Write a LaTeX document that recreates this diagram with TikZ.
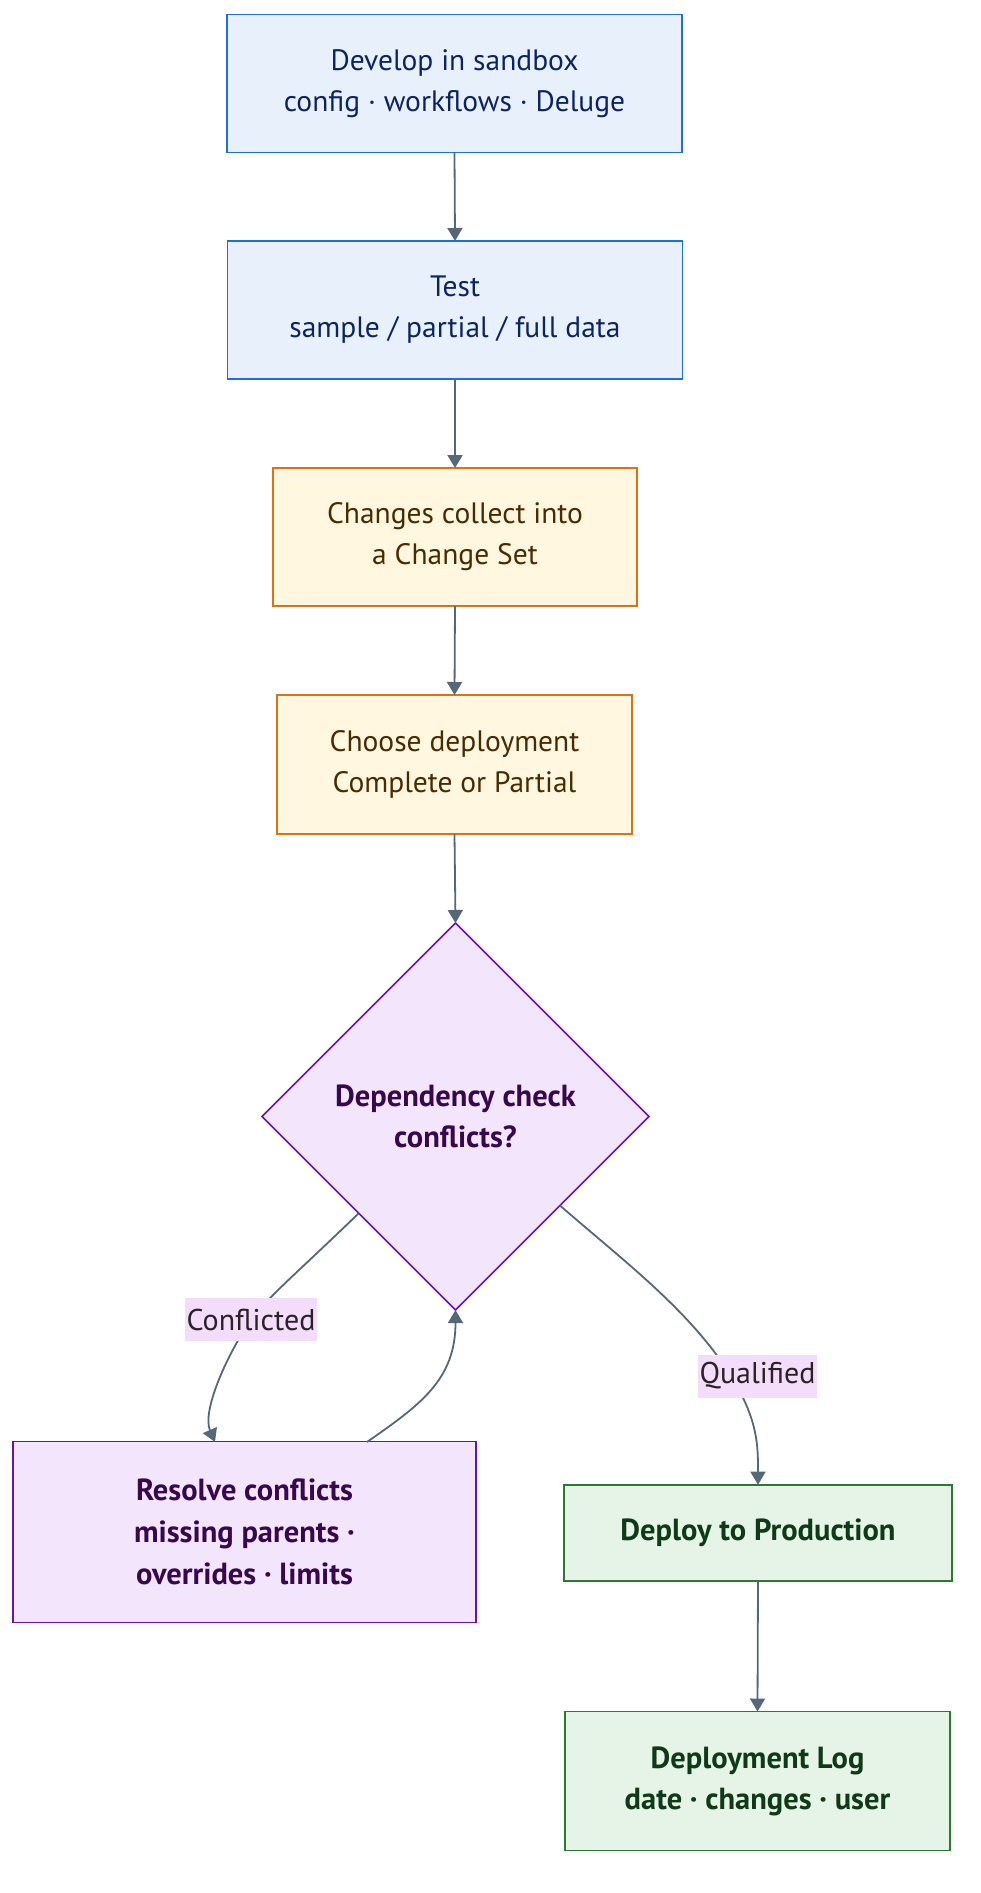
\documentclass[tikz,border=0pt]{standalone}
\usepackage{fontspec}
\setmainfont{PT Sans}
\usetikzlibrary{arrows.meta,shapes.geometric,calc}
\definecolor{bfill}{HTML}{E8F0FC}
\definecolor{bdraw}{HTML}{1E6FD9}
\definecolor{btext}{HTML}{0D2462}
\definecolor{ofill}{HTML}{FFF7E0}
\definecolor{odraw}{HTML}{DB7410}
\definecolor{otext}{HTML}{4A2B00}
\definecolor{pfill}{HTML}{F3E6FC}
\definecolor{pdraw}{HTML}{6A12B0}
\definecolor{ptext}{HTML}{38084F}
\definecolor{gfill}{HTML}{E6F4E8}
\definecolor{gdraw}{HTML}{2A7A34}
\definecolor{gtext}{HTML}{0E3A18}
\definecolor{edge}{HTML}{56677A}
\definecolor{lblfill}{HTML}{F3DDFB}
\definecolor{lbltext}{HTML}{2A2226}
\tikzset{
  x=1pt,y=-1pt,
  base/.style={rectangle,line width=1.6pt,align=center,inner sep=0pt,outer sep=0pt,
    font=\fontsize{29.5}{41}\selectfont},
  bluebox/.style={base,fill=bfill,draw=bdraw,text=btext},
  orangebox/.style={base,fill=ofill,draw=odraw,text=otext},
  purplebox/.style={base,fill=pfill,draw=pdraw,text=ptext,font=\fontsize{30.5}{42}\selectfont\bfseries},
  greenbox/.style={base,fill=gfill,draw=gdraw,text=gtext,font=\fontsize{30.5}{41}\selectfont\bfseries},
  decision/.style={diamond,aspect=1,fill=pfill,draw=pdraw,line width=1.6pt,text=ptext,align=center,
    inner sep=0pt,outer sep=0pt,minimum width=387pt,minimum height=387pt,
    font=\fontsize{30.5}{41}\selectfont\bfseries},
  conn/.style={draw=edge,line width=1.8pt,-{Triangle[length=13pt,width=15pt]}},
  lbl/.style={fill=lblfill,text=lbltext,inner xsep=1.5pt,inner ysep=0pt,minimum height=43pt,
    font=\fontsize{30}{34}\selectfont},
}
\begin{document}
\begin{tikzpicture}
\useasboundingbox (0,0) rectangle (980,1893);
\node[bluebox,minimum width=455pt,minimum height=138pt] (b1) at (454.5,83.5) {Develop in sandbox\\config · workflows · Deluge};
\node[bluebox,minimum width=455pt,minimum height=138pt] (b2) at (455,310) {Test\\sample / partial / full data};
\node[orangebox,minimum width=364pt,minimum height=138pt] (b3) at (455,537) {Changes collect into\\a Change Set};
\node[orangebox,minimum width=355pt,minimum height=139pt] (b4) at (454.5,764.5) {Choose deployment\\Complete or Partial};
\node[decision] (dia) at (455.5,1116.5) {Dependency check\\conflicts?};
\node[purplebox,minimum width=463pt,minimum height=181pt] (res) at (244.5,1532) {Resolve conflicts\\missing parents ·\\overrides · limits};
\node[greenbox,minimum width=388pt,minimum height=96pt] (dep) at (758,1532.7) {Deploy to Production};
\node[greenbox,minimum width=385pt,minimum height=139pt] (log) at (757.5,1781) {Deployment Log\\date · changes · user};

\draw[conn] (b1.south) -- (b2.north);
\draw[conn] (b2.south) -- (b3.north);
\draw[conn] (b3.south) -- (b4.north);
\draw[conn] (b4.south) -- (dia.north);

\coordinate (cl) at (251,1319.5);
\coordinate (resin) at (215,1442);
\draw[conn] (dia.south west) .. controls (300,1270) and (265,1300) .. (cl)
  .. controls (225,1358) and (202,1412) .. (resin);
\node[lbl] (lc) at (cl) {Conflicted};

\coordinate (resout) at (367,1442);
\draw[conn] (resout) .. controls (420,1405) and (455.5,1380) .. (dia.south);

\coordinate (qs) at ($(dia.east)!0.46!(dia.south)$);
\coordinate (ql) at (731,1376);
\draw[conn] (qs) .. controls (620,1258) and (690,1310) .. (ql)
  .. controls (758,1420) and (758,1445) .. (dep.north);
\node[lbl] (lq) at (757.5,1376) {Qualified};

\draw[conn] (dep.south) -- (log.north);
\end{tikzpicture}
\end{document}
